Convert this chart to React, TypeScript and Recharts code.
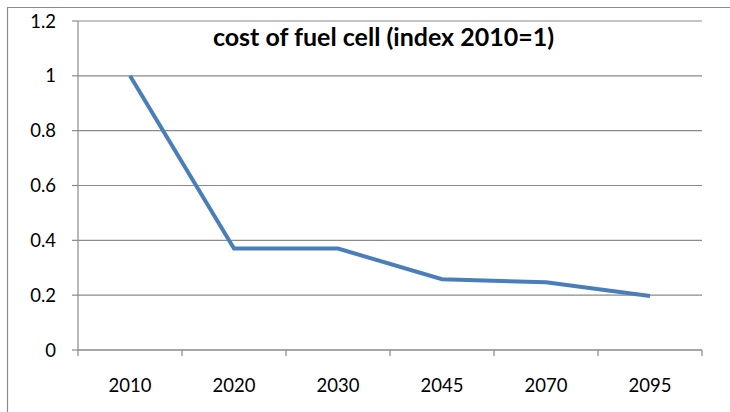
import React from "react";
import { LineChart, Line, XAxis, YAxis, CartesianGrid } from "recharts";

const years = ["2010", "2020", "2030", "2045", "2070", "2095"];
const costIndex = [1, 0.37, 0.37, 0.258, 0.247, 0.197];
const yTicks = [0, 0.2, 0.4, 0.6, 0.8, 1, 1.2];
const bandEdges = [0, 1, 2, 3, 4, 5, 6];
const title = "cost of fuel cell (index 2010=1)";

// category position = centre of its band on a 0..N scale
const data = years.map((year, i) => ({ year, pos: i + 0.5, value: costIndex[i] }));
const labelPositions = data.map((d) => d.pos);

const FONT = "Lato, 'Open Sans', sans-serif";
const GRAY = "#8a8a8a";

export default function App() {
  return (
    <div style={{ position: "absolute", left: 0, top: 0, width: 730, height: 412, background: "#fff", overflow: "hidden" }}>
      <LineChart
        width={730}
        height={412}
        data={data}
        margin={{ top: 21, right: 28, left: 18, bottom: 0 }}
      >
        <CartesianGrid vertical={false} stroke={GRAY} strokeWidth={1.2} xAxisId="edges" />
        <XAxis
          xAxisId="edges"
          type="number"
          dataKey="pos"
          domain={[0, years.length]}
          ticks={bandEdges}
          interval={0}
          tickFormatter={() => ""}
          tickSize={6}
          tickMargin={0}
          height={1}
          axisLine={{ stroke: GRAY, strokeWidth: 1.2 }}
          tickLine={{ stroke: GRAY, strokeWidth: 1.2 }}
          tick={{ fontSize: 1 }}
        />
        <XAxis
          xAxisId="labels"
          type="number"
          dataKey="pos"
          domain={[0, years.length]}
          ticks={labelPositions}
          interval={0}
          height={61}
          axisLine={false}
          tickLine={false}
          tickSize={0}
          tickMargin={28}
          tickFormatter={(v: number) => years[Math.floor(v)]}
          tick={{ fill: "#000", fontSize: 18.5, fontFamily: FONT }}
        />
        <YAxis
          width={60}
          domain={[0, 1.2]}
          ticks={yTicks}
          interval={0}
          tickSize={6}
          tickMargin={16}
          axisLine={{ stroke: GRAY, strokeWidth: 1.2 }}
          tickLine={{ stroke: GRAY, strokeWidth: 1.2 }}
          tick={{ fill: "#000", fontSize: 18.5, fontFamily: FONT }}
          tickFormatter={(v: number) => String(v)}
        />
        <Line
          xAxisId="edges"
          type="linear"
          dataKey="value"
          stroke="#4A7EBB"
          strokeWidth={4}
          dot={false}
          activeDot={false}
          isAnimationActive={false}
        />
      </LineChart>
      <svg width={730} height={412} style={{ position: "absolute", left: 0, top: 0, pointerEvents: "none" }}>
        <line x1={7.5} y1={7.5} x2={7.5} y2={412} stroke={GRAY} strokeWidth={1.2} />
        <line x1={7} y1={7.5} x2={730} y2={7.5} stroke={GRAY} strokeWidth={1.2} />
        <text x={383.5} y={46} textAnchor="middle" fontFamily={FONT} fontWeight="bold" fontSize={25} fill="#000">
          {title}
        </text>
      </svg>
    </div>
  );
}
